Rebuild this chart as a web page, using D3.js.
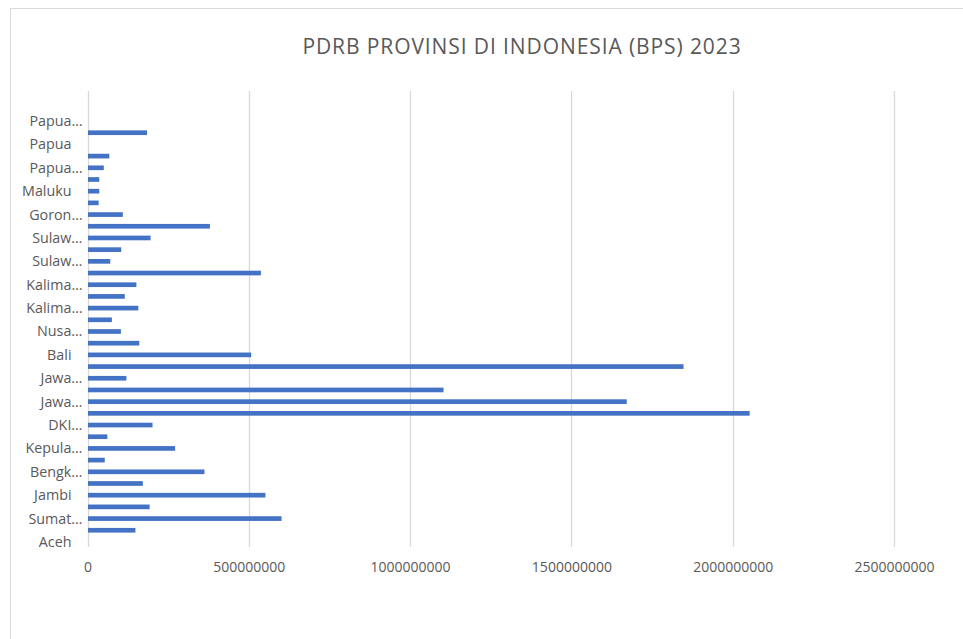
<!DOCTYPE html>
<html>
<head>
<meta charset="utf-8">
<script src="https://cdn.jsdelivr.net/npm/d3@7"></script>
<style>
  html, body { margin: 0; padding: 0; background: #fff; }
  svg { display: block; }
</style>
</head>
<body>
<svg id="chart" width="963" height="639"></svg>
<script>
// Category order as in the sheet (bottom to top). The last row is blank.
const categories = [
  "Aceh","Sumatera Utara","Sumatera Barat","Riau","Jambi","Sumatera Selatan","Bengkulu","Lampung",
  "Kepulauan Bangka Belitung","Kepulauan Riau","DKI Jakarta","Jawa Barat","Jawa Tengah","DI Yogyakarta",
  "Jawa Timur","Banten","Bali","Nusa Tenggara Barat","Nusa Tenggara Timur","Kalimantan Barat",
  "Kalimantan Tengah","Kalimantan Selatan","Kalimantan Timur","Kalimantan Utara","Sulawesi Utara",
  "Sulawesi Tengah","Sulawesi Selatan","Sulawesi Tenggara","Gorontalo","Sulawesi Barat","Maluku",
  "Maluku Utara","Papua Barat","Papua Barat Daya","Papua","Papua Selatan","Papua Tengah",
  "Papua Pegunungan",""
];
// Values as drawn at each category row; null = no bar.
const values = [
  null, 147e6, 600e6, 191e6, 550e6, 170e6, 361e6, 52e6,
  270e6, 60e6, 200e6, 2051e6, 1670e6, 1102e6,
  119e6, 1846e6, 506e6, 159e6, 102e6, 74e6,
  156e6, 114e6, 150e6, 536e6, 69e6,
  103e6, 194e6, 378e6, 108e6, 33e6, 35e6,
  35e6, 49e6, 66e6, null, 183e6, null,
  null, null
];
// Category labels as displayed (every other row, truncated as in the picture).
const yTickLabels = {
  0: "Aceh", 2: "Sumat…", 4: "Jambi", 6: "Bengk…", 8: "Kepula…", 10: "DKI…",
  12: "Jawa…", 14: "Jawa…", 16: "Bali", 18: "Nusa…", 20: "Kalima…", 22: "Kalima…",
  24: "Sulaw…", 26: "Sulaw…", 28: "Goron…", 30: "Maluku", 32: "Papua…", 34: "Papua", 36: "Papua…"
};
const xTicks = [0, 500000000, 1000000000, 1500000000, 2000000000, 2500000000];
const title = "PDRB PROVINSI DI INDONESIA (BPS) 2023";

const svg = d3.select("#chart");
const font = "'Open Sans', 'Noto Sans', sans-serif";
const textColor = "#595959";
const gridColor = "#d9d9d9";

// chart frame (cropped on right/bottom in the reference)
svg.append("rect")
  .attr("x", 10.5).attr("y", 8.5)
  .attr("width", 1100).attr("height", 800)
  .attr("fill", "#fff").attr("stroke", gridColor).attr("stroke-width", 1);

const plot = { left: 87.5, right: 894, top: 91, bottom: 547 };

const x = d3.scaleLinear().domain([0, 2500000000]).range([plot.left, plot.right]);
const y = d3.scaleBand()
  .domain(d3.range(categories.length))
  .range([plot.bottom, plot.top])
  .paddingInner(0).paddingOuter(0);

// title
svg.append("text")
  .attr("x", 522).attr("y", 54)
  .attr("text-anchor", "middle")
  .attr("font-family", font)
  .attr("font-size", 21)
  .attr("letter-spacing", 0.9)
  .attr("fill", textColor)
  .text(title);

// vertical gridlines
svg.append("g")
  .selectAll("line")
  .data(xTicks)
  .join("line")
  .attr("x1", d => Math.round(x(d)) + 0.5)
  .attr("x2", d => Math.round(x(d)) + 0.5)
  .attr("y1", plot.top)
  .attr("y2", plot.bottom)
  .attr("stroke", gridColor)
  .attr("stroke-width", 1.3);

// x tick labels via axis
const xAxis = d3.axisBottom(x).tickValues(xTicks).tickFormat(d3.format("d")).tickSize(0).tickPadding(0);
const gx = svg.append("g")
  .attr("transform", `translate(0,${plot.bottom + 15})`)
  .call(xAxis);
gx.select(".domain").remove();
gx.selectAll("text")
  .attr("font-family", font)
  .attr("font-size", 14)
  .attr("fill", textColor);

// bars
const bw = y.bandwidth();
const barH = bw * 0.4;
svg.append("g")
  .selectAll("rect")
  .data(values.map((v, i) => ({ i, v })).filter(d => d.v != null))
  .join("rect")
  .attr("x", x(0) + 0.5)
  .attr("y", d => y(d.i) + (bw - barH) / 2 + 0.8)
  .attr("width", d => x(d.v) - x(0))
  .attr("height", barH)
  .attr("fill", "#4472C4");

// y labels
const yAxis = d3.axisLeft(y).tickValues(Object.keys(yTickLabels).map(Number))
  .tickFormat(i => yTickLabels[i]).tickSize(0).tickPadding(0);
const gy = svg.append("g").attr("transform", "translate(0,0)").call(yAxis);
gy.select(".domain").remove();
gy.selectAll("text")
  .attr("font-family", font)
  .attr("font-size", 14.3)
  .attr("fill", textColor)
  .attr("x", d => yTickLabels[d].endsWith("…") ? 82.5 : 71.5)
  .attr("dy", "0.4em")
  .attr("text-anchor", "end");
</script>
</body>
</html>
